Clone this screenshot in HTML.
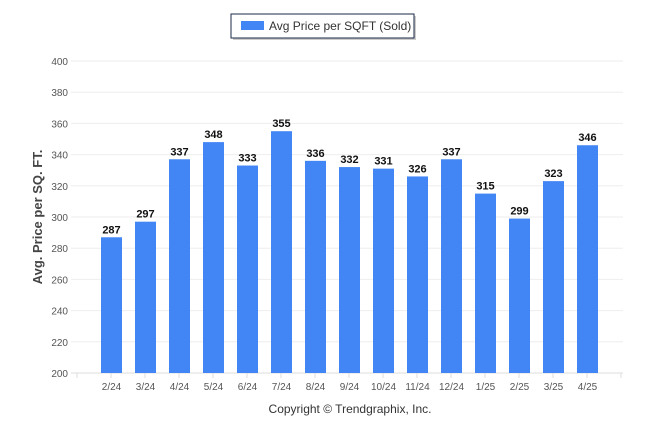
<!DOCTYPE html>
<html><head><meta charset="utf-8"><style>
body{margin:0;background:#fff;width:646px;height:434px;overflow:hidden;font-family:"Liberation Sans",Arial,sans-serif}
</style></head><body>
<svg width="646" height="434" xmlns="http://www.w3.org/2000/svg">
<g>
<rect x="233" y="16" width="183" height="24" fill="#999" opacity="0.5"/>
<rect x="231" y="14" width="183" height="24" fill="#fff" stroke="#1a2a4a" stroke-width="1"/>
<rect x="241" y="21" width="23" height="9" fill="#4285f4"/>
<text x="269" y="30" font-size="12" fill="#333">Avg Price per SQFT (Sold)</text>
</g>
<g id="grid"></g><g id="bars"></g>
<text transform="translate(42,217) rotate(-90)" text-anchor="middle" font-size="13" font-weight="bold" fill="#444">Avg. Price per SQ. FT.</text>
<text x="350" y="413" text-anchor="middle" font-size="12" fill="#333">Copyright © Trendgraphix, Inc.</text>
</svg>
<script>
const categories=["2/24","3/24","4/24","5/24","6/24","7/24","8/24","9/24","10/24","11/24","12/24","1/25","2/25","3/25","4/25"];
const values=[287,297,337,348,333,355,336,332,331,326,337,315,299,323,346];
const yTicks=[200,220,240,260,280,300,320,340,360,380,400];
const NS="http://www.w3.org/2000/svg";
const y=v=>373-(v-200)*312/200;
const x0=77,band=34;
const g=document.getElementById('grid'),b=document.getElementById('bars');
function mk(t,a,p){const e=document.createElementNS(NS,t);for(const k in a)e.setAttribute(k,a[k]);p.appendChild(e);return e;}
yTicks.forEach(v=>{
 const l=mk('line',{x1:71,x2:623,y1:y(v),y2:y(v),stroke:v===200?'#ddd':'#eee','stroke-width':1},g);
 
 
 const t=mk('text',{x:68,y:y(v)+4,'text-anchor':'end','font-size':10,fill:'#555'},g);
 t.textContent=v;
 
 
});
for(let k=0;k<=16;k++){mk('line',{x1:x0+band*k,x2:x0+band*k,y1:373,y2:378,stroke:'#ddd'},g);}
categories.forEach((c,i)=>{
 const cx=x0+band*i+34.5, v=values[i];
 const r=mk('rect',{x:cx-10.5,y:y(v),width:21,height:373-y(v),fill:'#4285f4'},b);
 
 
 const lt=mk('text',{x:cx,y:y(v)-4,'text-anchor':'middle','font-size':11,'font-weight':'bold',fill:'#111'},b);
 lt.textContent=v;
 
 
 const xt=mk('text',{x:cx,y:390,'text-anchor':'middle','font-size':10,fill:'#555'},b);
 xt.textContent=c;
 
 
});
</script>
</body></html>
